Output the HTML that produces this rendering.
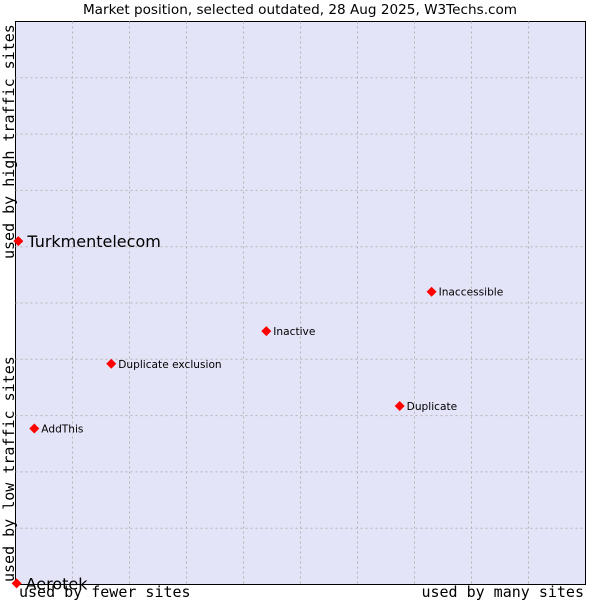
<!DOCTYPE html>
<html><head><meta charset="utf-8"><style>
body{margin:0;background:#fff;width:600px;height:600px;overflow:hidden}
svg text{font-family:"DejaVu Sans","Liberation Sans",sans-serif}
.mono{font-family:"DejaVu Sans Mono","Liberation Mono",monospace}
</style></head><body>
<svg width="600" height="600">
<text x="300" y="14" text-anchor="middle" font-size="13.6">Market position, selected outdated, 28 Aug 2025, W3Techs.com</text>
<rect x="15.5" y="21.5" width="570" height="563" fill="#e3e4f8" stroke="#000"/>
<g id="grid"></g>
<g id="pts"></g>
<text class="mono" x="19" y="597" font-size="15">used by fewer sites</text>
<text class="mono" x="584" y="597" font-size="15" text-anchor="end">used by many sites</text>
<text class="mono" transform="translate(14,582) rotate(-90)" font-size="15">used by low traffic sites</text>
<text class="mono" transform="translate(14,259) rotate(-90)" font-size="15">used by high traffic sites</text>
</svg>
<script>
const names=["Turkmentelecom","Inaccessible","Inactive","Duplicate exclusion","Duplicate","AddThis","Aerotek"];
const xs=[0.5,73,44,16.8,67.4,3.3,0.2];
const ys=[61,52,45,39.2,31.7,27.7,0.2];
const big=[true,false,false,false,false,false,true];
const L=15.5,R=585.5,T=21.5,B=584.5;
const sx=v=>L+v/100*(R-L), sy=v=>B-v/100*(B-T);
const NS="http://www.w3.org/2000/svg";
const g=document.getElementById('grid');
for(let i=1;i<10;i++){
 const x=L+i*57,y=T+i*(B-T)/10;
 const a=document.createElementNS(NS,'line');
 
 
 a.setAttribute('x1',x);a.setAttribute('x2',x);a.setAttribute('y1',T);a.setAttribute('y2',B);
 a.setAttribute('stroke','#b4b4b4');a.setAttribute('stroke-dasharray','2,3');g.appendChild(a);
 const b=document.createElementNS(NS,'line');
 
 
 b.setAttribute('x1',L);b.setAttribute('x2',R);b.setAttribute('y1',y);b.setAttribute('y2',y);
 b.setAttribute('stroke','#b4b4b4');b.setAttribute('stroke-dasharray','2,3');g.appendChild(b);
}
const p=document.getElementById('pts');
names.forEach((n,i)=>{
 const x=sx(xs[i]),y=sy(ys[i]);
 const d=document.createElementNS(NS,'polygon');
 
 
 d.setAttribute('points',`${x},${y-5} ${x+5},${y} ${x},${y+5} ${x-5},${y}`);
 d.setAttribute('fill','#f00');p.appendChild(d);
 const t=document.createElementNS(NS,'text');
 
 
 t.setAttribute('x',x+(big[i]?9:7));t.setAttribute('y',y+(big[i]?6:4));
 t.setAttribute('font-size',big[i]?'16':'10.6');t.textContent=n;p.appendChild(t);
});
</script>
</body></html>
